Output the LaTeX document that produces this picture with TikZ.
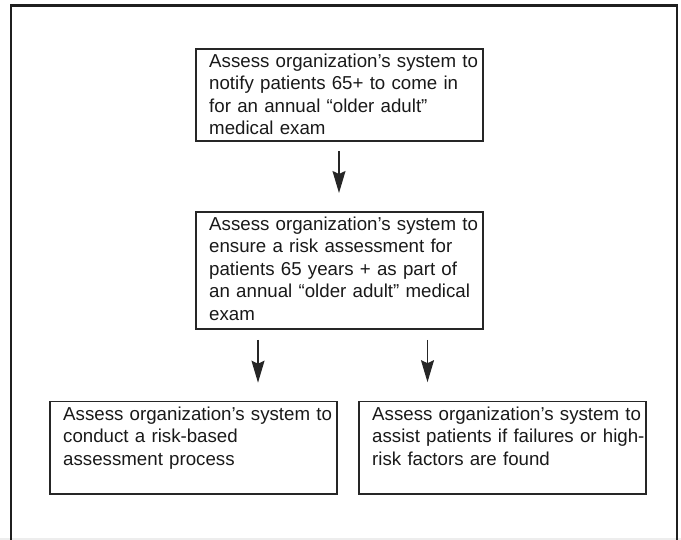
\documentclass[tikz,border=0pt]{standalone}
\usepackage{fontspec}
\setmainfont{Liberation Sans}
\usetikzlibrary{arrows.meta,calc}
\begin{document}
\begin{tikzpicture}[x=1pt,y=-1pt,
  box/.style={draw=black!85,line width=1.3pt,outer sep=0pt,inner sep=0pt,anchor=north west},
  txt/.style={anchor=north west,inner sep=0pt,align=left,text width=300pt,text=black!90,
    font=\fontsize{18.7}{22.4}\selectfont},
  arr/.style={draw=black!85,line width=1.3pt,-{Stealth[length=22pt,width=13pt,inset=3pt]}}]
\useasboundingbox (0,0) rectangle (681,540);
\fill[black!7] (0,537.5) rectangle (681,540);
\draw[black!88,line width=2.2pt] (11,545) -- (11,5.5) -- (677,5.5) -- (677,545);
% boxes
\node[box,minimum width=287,minimum height=92] (t) at (196,49) {};
\node[box,minimum width=287,minimum height=117] (m) at (196,212) {};
\node[box,minimum width=287,minimum height=92.3] (bl) at (50,401.7) {};
\node[box,minimum width=287,minimum height=92.3] (br) at (359,401.7) {};
% texts
\node[txt] (tt) at ($(t.north west)+(13,4.3)$) {\rule{0pt}{14pt}Assess organization’s system to\\notify patients 65+ to come in\\for an annual “older adult”\\medical exam};
\node[txt] (mt) at ($(m.north west)+(13,4.3)$) {\rule{0pt}{14pt}Assess organization’s system to\\ensure a risk assessment for\\patients 65 years + as part of\\an annual “older adult” medical\\exam};
\node[txt] (blt) at ($(bl.north west)+(13,4.3)$) {\rule{0pt}{14pt}Assess organization’s system to\\conduct a risk-based\\assessment process};
\node[txt] (brt) at ($(br.north west)+(13,4.3)$) {\rule{0pt}{14pt}Assess organization’s system to\\assist patients if failures or high-\\risk factors are found};
% arrows
\coordinate (a0) at (339,0);
\coordinate (a1) at (258,0);
\coordinate (a2) at (427.5,0);
\draw[arr,shorten <=10.5pt,shorten >=19pt] (t.south -| a0) -- (m.north -| a0);
\draw[arr,shorten <=11pt,shorten >=19pt] (m.south -| a1) -- (bl.north -| a1);
\draw[arr,shorten <=11pt,shorten >=19.5pt] (m.south -| a2) -- (br.north -| a2);
\end{tikzpicture}
\end{document}
